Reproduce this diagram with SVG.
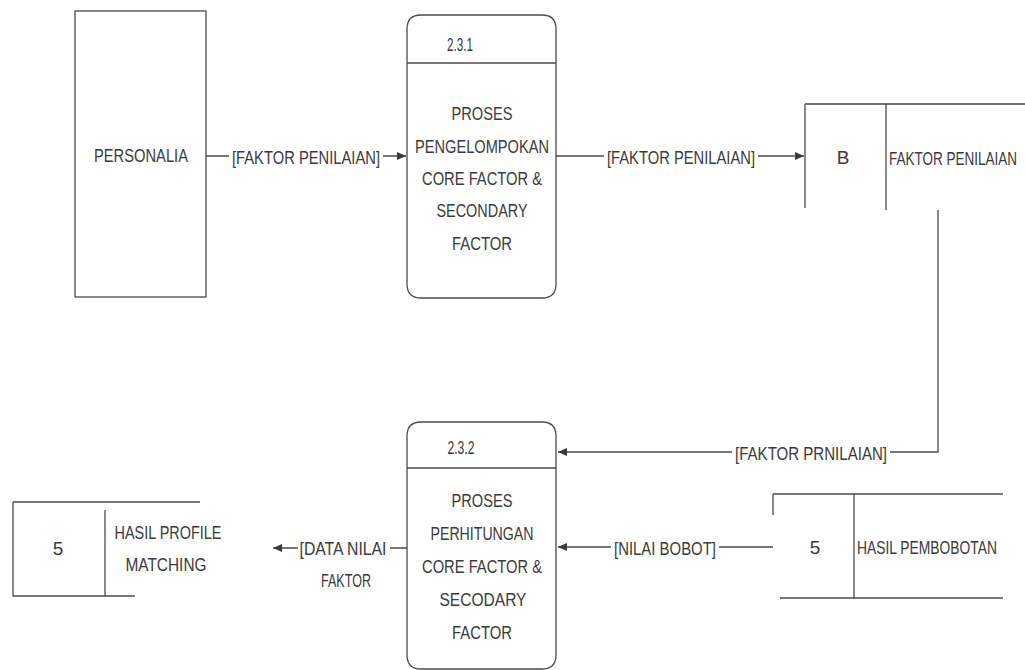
<svg xmlns="http://www.w3.org/2000/svg" width="1025" height="670" viewBox="0 0 1025 670">
<style>
  .ln{fill:none;stroke:#4a4a4a;stroke-width:1.3}
  .t{font-family:"Liberation Sans",Arial,sans-serif;font-size:19px;fill:#3a3a3a;text-anchor:middle;dominant-baseline:central}
  .ts{font-family:"Liberation Sans",Arial,sans-serif;font-size:19px;fill:#3a3a3a;text-anchor:start;dominant-baseline:central}
  .bg{fill:#fff}
</style>
<defs>
  <marker id="ah" markerWidth="10" markerHeight="8" refX="9" refY="4" orient="auto" markerUnits="userSpaceOnUse">
    <path d="M0,0 L9,4 L0,8 Z" fill="#3a3a3a"/>
  </marker>
</defs>
<rect width="1025" height="670" fill="#fff"/>

<g id="connectors">
  <line class="ln" x1="206" y1="156" x2="406" y2="156" marker-end="url(#ah)"/>
  <line class="ln" x1="556" y1="156" x2="804" y2="156" marker-end="url(#ah)"/>
  <path class="ln" d="M938,210 V452 H558" marker-end="url(#ah)"/>
  <line class="ln" x1="773" y1="547" x2="558" y2="547" marker-end="url(#ah)"/>
  <line class="ln" x1="407" y1="548" x2="273" y2="548" marker-end="url(#ah)"/>
  <rect class="bg" x="229" y="145" width="154" height="24"/>
  <text class="t" x="306" y="157" textLength="148" lengthAdjust="spacingAndGlyphs">[FAKTOR PENILAIAN]</text>
  <rect class="bg" x="604" y="145" width="154" height="24"/>
  <text class="t" x="681" y="157" textLength="148" lengthAdjust="spacingAndGlyphs">[FAKTOR PENILAIAN]</text>
  <rect class="bg" x="732" y="441" width="158" height="24"/>
  <text class="t" x="811" y="453" textLength="152" lengthAdjust="spacingAndGlyphs">[FAKTOR PRNILAIAN]</text>
  <rect class="bg" x="611" y="536" width="108" height="24"/>
  <text class="t" x="665" y="548" textLength="102" lengthAdjust="spacingAndGlyphs">[NILAI BOBOT]</text>
  <rect class="bg" x="298" y="536" width="92" height="56"/>
  <text class="t" x="343" y="548" textLength="87" lengthAdjust="spacingAndGlyphs">[DATA NILAI</text>
  <text class="t" x="346" y="580" textLength="50" lengthAdjust="spacingAndGlyphs">FAKTOR</text>
</g>

<g id="personalia">
  <rect class="ln" x="75" y="11" width="131" height="286"/>
  <text class="t" x="141" y="155" textLength="94" lengthAdjust="spacingAndGlyphs">PERSONALIA</text>
</g>

<g id="proses-231">
  <path class="ln" d="M421,15 H542 Q556,15 556,29 V284 Q556,298 542,298 H421 Q407,298 407,284 V29 Q407,15 421,15 Z"/>
  <line class="ln" x1="407" y1="63" x2="556" y2="63"/>
  <text class="t" x="460" y="44" textLength="26" lengthAdjust="spacingAndGlyphs">2.3.1</text>
  <text class="t" x="482" y="113" textLength="61" lengthAdjust="spacingAndGlyphs">PROSES</text>
  <text class="t" x="482" y="146" textLength="134" lengthAdjust="spacingAndGlyphs">PENGELOMPOKAN</text>
  <text class="t" x="482" y="178" textLength="120" lengthAdjust="spacingAndGlyphs">CORE FACTOR &amp;</text>
  <text class="t" x="482" y="210" textLength="91" lengthAdjust="spacingAndGlyphs">SECONDARY</text>
  <text class="t" x="482" y="243" textLength="60" lengthAdjust="spacingAndGlyphs">FACTOR</text>
</g>

<g id="store-b">
  <path class="ln" d="M805,104 H1025 M805,104 V208 M886,104 V210"/>
  <text class="t" x="843" y="157">B</text>
  <text class="ts" x="889" y="158" textLength="128" lengthAdjust="spacingAndGlyphs">FAKTOR PENILAIAN</text>
</g>

<g id="proses-232">
  <path class="ln" d="M421,422 H542 Q556,422 556,436 V655 Q556,669 542,669 H421 Q407,669 407,655 V436 Q407,422 421,422 Z"/>
  <line class="ln" x1="407" y1="468" x2="556" y2="468"/>
  <text class="t" x="461" y="447" textLength="27" lengthAdjust="spacingAndGlyphs">2.3.2</text>
  <text class="t" x="482" y="500" textLength="61" lengthAdjust="spacingAndGlyphs">PROSES</text>
  <text class="t" x="482" y="533" textLength="103" lengthAdjust="spacingAndGlyphs">PERHITUNGAN</text>
  <text class="t" x="482" y="566" textLength="120" lengthAdjust="spacingAndGlyphs">CORE FACTOR &amp;</text>
  <text class="t" x="483" y="599" textLength="87" lengthAdjust="spacingAndGlyphs">SECODARY</text>
  <text class="t" x="482" y="632" textLength="60" lengthAdjust="spacingAndGlyphs">FACTOR</text>
</g>

<g id="store-hasil-pembobotan">
  <path class="ln" d="M773,494 H1003 M773,494 V515 M854,494 V598 M780,598 H1003"/>
  <text class="t" x="815" y="547">5</text>
  <text class="ts" x="857" y="547" textLength="140" lengthAdjust="spacingAndGlyphs">HASIL PEMBOBOTAN</text>
</g>

<g id="store-hasil-profile">
  <path class="ln" d="M13,502 H200 M13,502 V596 H135 M105,510 V596"/>
  <text class="t" x="58" y="548">5</text>
  <text class="t" x="168" y="532" textLength="107" lengthAdjust="spacingAndGlyphs">HASIL PROFILE</text>
  <text class="t" x="166" y="564" textLength="81" lengthAdjust="spacingAndGlyphs">MATCHING</text>
</g>
</svg>
